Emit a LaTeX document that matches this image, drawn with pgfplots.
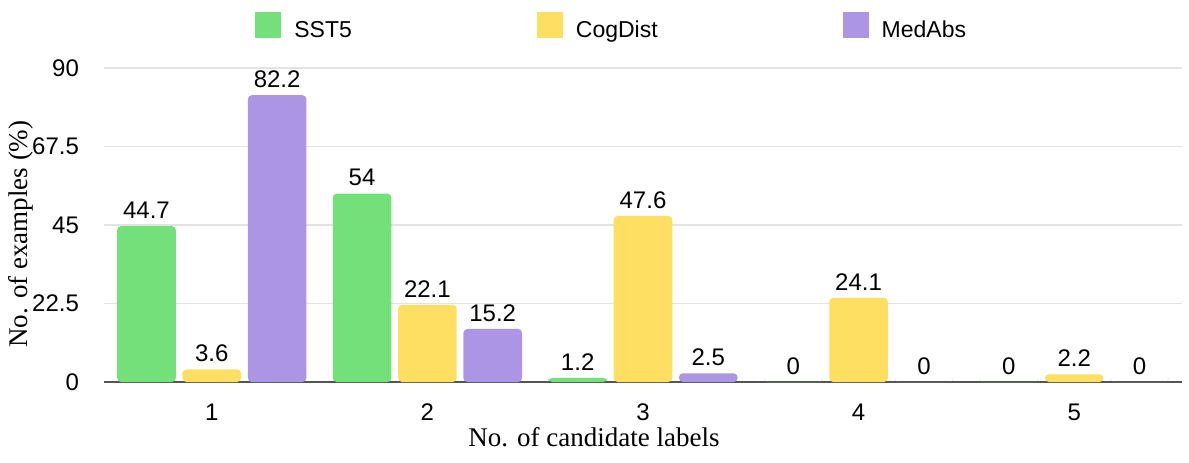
\documentclass[border=0pt]{standalone}
\usepackage{pgfplots}
\pgfplotsset{compat=1.18}
\usepackage{fontspec}
\setmainfont{Liberation Sans}
\newfontfamily\seriffont{Liberation Serif}
\definecolor{cgreen}{HTML}{74E07A}
\definecolor{cyellow}{HTML}{FFDF62}
\definecolor{cpurple}{HTML}{AD95E6}
\definecolor{cgrid}{HTML}{E3E3E3}
\definecolor{caxis}{HTML}{555555}
\begin{document}
\begin{tikzpicture}
\useasboundingbox (0,0) rectangle (594.5pt,231pt);
\begin{axis}[
  at={(52pt,40pt)}, anchor=south west,
  scale only axis, width=539pt, height=157pt,
  xmin=0.5, xmax=5.5, ymin=0, ymax=90,
  xtick={1,2,3,4,5}, ytick={0,22.5,45,67.5,90},
  ybar, bar width=0.272,
  ymajorgrids, grid style={cgrid, line width=0.6pt},
  axis x line*=bottom, axis y line*=left,
  x axis line style={caxis, line width=0.6pt, -},
  y axis line style={draw=none},
  major tick length=0pt,
  /pgf/number format/assume math mode=true,
  tick label style={font=\fontsize{12}{14}\selectfont, black},
  yticklabel style={xshift=-9pt},
  xticklabel style={yshift=-7.5pt},
  nodes near coords,
  every node near coord/.append style={font=\fontsize{12}{14}\selectfont, black, inner sep=0pt, yshift=3.5pt},
  xlabel={No. of candidate labels},
  ylabel={No. of examples (\%)},
  xlabel style={at={(axis description cs:0.4545,-0.175)}, anchor=center, font=\seriffont\fontsize{13.5}{16}\selectfont},
  ylabel style={at={(axis description cs:-0.0775,0.471)}, anchor=center, font=\seriffont\fontsize{13.5}{16}\selectfont},
  legend columns=3,
  legend image code/.code={\fill[#1, rounded corners=0pt] (0pt,-3.5pt) rectangle (13pt,9.5pt);},
  legend style={at={(axis description cs:0.1345,1.132)}, anchor=west, draw=none, fill=none,
    font=\fontsize{11.5}{14}\selectfont,
    nodes={inner sep=0pt},
    /tikz/every odd column/.append style={column sep=6.5pt},
    /tikz/every even column/.append style={column sep=92.5pt}},
]
\addplot[fill=cgreen, draw=none, bar shift=-0.303, rounded corners=2pt]
  coordinates {(1,44.7) (2,54) (3,1.2) (4,0) (5,0)};
\addplot[fill=cyellow, draw=none, bar shift=0, rounded corners=2pt]
  coordinates {(1,3.6) (2,22.1) (3,47.6) (4,24.1) (5,2.2)};
\addplot[fill=cpurple, draw=none, bar shift=0.303, rounded corners=2pt]
  coordinates {(1,82.2) (2,15.2) (3,2.5) (4,0) (5,0)};
\legend{SST5, CogDist, MedAbs}
\end{axis}
\end{tikzpicture}
\end{document}
